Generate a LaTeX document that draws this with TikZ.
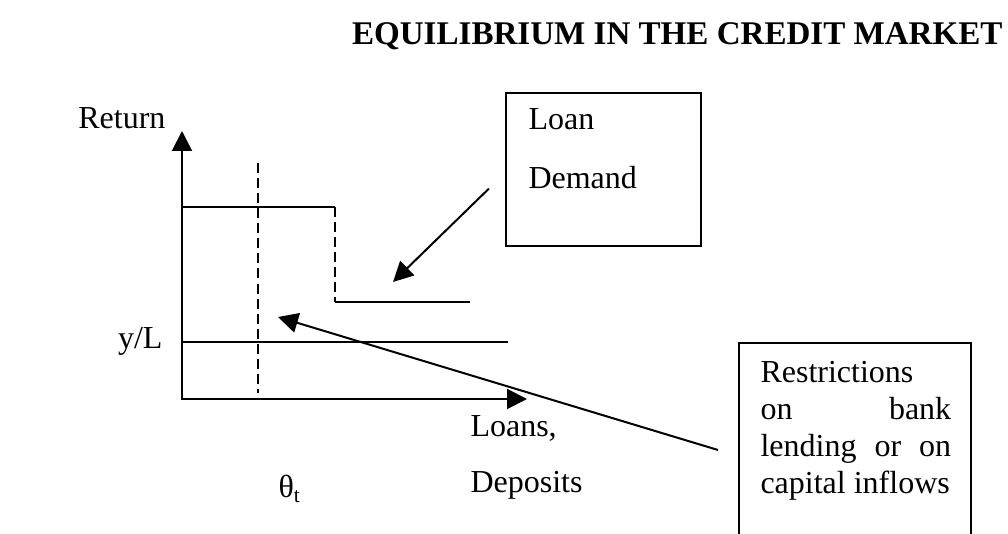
\documentclass[tikz,border=0pt]{standalone}
\usepackage{fontspec}
\setmainfont{Liberation Serif}
\usetikzlibrary{arrows.meta,calc,positioning}

\tikzset{
  thinline/.style={line width=0.75pt},
  guide/.style={line width=0.75pt, dash pattern=on 3.75pt off 1.9pt},
  pointer/.style={line width=0.75pt, -{Triangle[length=7.5pt,width=7.5pt]}},
  lbl/.style={font=\fontsize{12}{13.8}\selectfont, inner sep=0pt},
  notebox/.style={draw, line width=0.75pt, inner sep=0pt},
}

\begin{document}
\begin{tikzpicture}[x=0.375pt,y=-0.375pt]
\useasboundingbox (0,0) rectangle (1008,534);
% heading
\node[lbl, font=\fontsize{12.4}{14}\selectfont\bfseries, anchor=base east] (title) at (1003,45) {EQUILIBRIUM IN THE CREDIT MARKET};
%
% axes
\coordinate (O) at (182,399);
\coordinate (ytop) at (182,131);
\coordinate (xend) at (527,399);
\draw[thinline, {Triangle[length=7.5pt,width=7.5pt]}-{Triangle[length=7.5pt,width=7.5pt]}] (ytop) |- (xend);
\node[lbl, anchor=base east] (ret) at (166,129) {Return};
\node[lbl, anchor=base west] (loans) at (470,437) {Loans,};
\node[lbl, anchor=base west] (depo) at (470,493) {Deposits};
%
% loan demand, stepping down
\draw[thinline] (182,207) -- (335,207);
\draw[guide] (335,207) -- (335,302);
\draw[thinline] (335,302) -- (470,302);
% deposit return
\draw[thinline] (182,342) -- (508,342);
\node[lbl, anchor=base east] (yl) at (163,349) {y/L};
% restriction
\draw[guide] (258,163) -- (258,393);
\node[lbl, anchor=base west] (theta) at (278,498) {θ\textsubscript{t}};
%
% boxes
\node[notebox, minimum width=73.1pt, minimum height=57.4pt, anchor=north west] (ld) at (505,92) {};
\node[lbl, anchor=base west] (ldtxt) at ($(ld.north west)+(23,38)$) {Loan};
\node[lbl, anchor=base west] (ldtxt2) at ($(ld.north west)+(23,97)$) {Demand};
\node[notebox, minimum width=87pt, minimum height=82pt, anchor=north west] (rb) at (738,342) {};
\node[lbl, text width=71.5pt, align=justify, anchor=north west] (rbtxt) at ($(rb.north west)+(22,19)$)
  {Restrictions\linebreak on bank\linebreak lending or on\linebreak capital inflows};
%
% pointers
\coordinate (ldfoot) at ($(ld.west)+(-16,19)$);
\coordinate (ldtip) at (393,282);
\draw[pointer] (ldfoot) -- (ldtip);
\coordinate (rbfoot) at ($(rb.north west)+(-20,108)$);
\coordinate (rbtip) at (278,317);
\draw[pointer] (rbfoot) -- (rbtip);
\end{tikzpicture}
\end{document}
